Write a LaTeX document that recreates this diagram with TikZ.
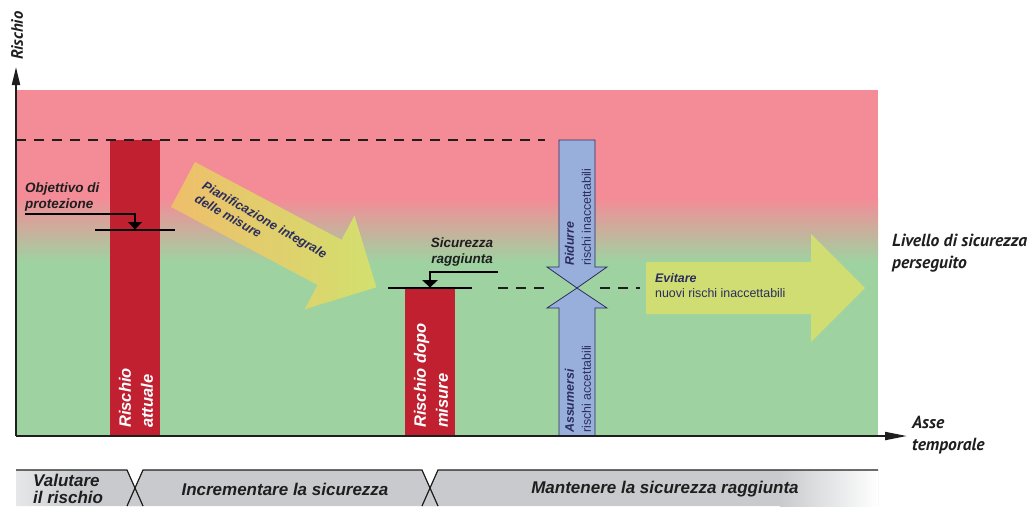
\documentclass[tikz,border=0pt]{standalone}
\usepackage{fontspec}
\setmainfont{Liberation Sans}
\newfontfamily\ptsans{PT Sans}
\usetikzlibrary{arrows.meta}
\definecolor{pinkbg}{RGB}{244,140,151}
\definecolor{greenbg}{RGB}{158,211,161}
\definecolor{redbar}{RGB}{192,32,48}
\definecolor{navy}{RGB}{43,45,92}
\definecolor{bluearrow}{RGB}{152,174,219}
\definecolor{evitare}{RGB}{207,221,115}
\definecolor{orangeA}{RGB}{239,190,107}
\definecolor{greenA}{RGB}{210,224,110}
\definecolor{bandgray}{RGB}{200,202,205}
\definecolor{axisc}{RGB}{30,30,30}
\definecolor{txt}{RGB}{30,30,30}
\tikzset{
  axisline/.style={line width=2pt, draw=axisc},
  dashline/.style={line width=1.2pt, draw=axisc, dash pattern=on 10pt off 8pt},
  marker/.style={line width=2.6pt, draw=black},
  leader/.style={line width=1.3pt, draw=black},
  bartext/.style={rotate=90, anchor=west, align=left, text=white, inner sep=0pt,
     font=\fontsize{16.5}{22}\selectfont\bfseries\itshape},
  bluetext/.style={rotate=90, anchor=west, align=left, text=navy, inner sep=0pt,
     font=\fontsize{12.4}{17}\selectfont},
  labeltext/.style={inner sep=0pt, text=txt, font=\fontsize{13.5}{16}\selectfont\bfseries\itshape},
  ptlabel/.style={inner sep=0pt, text=txt, align=left, font=\ptsans\fontsize{17.5}{22}\selectfont\bfseries\itshape},
  bandtext/.style={inner sep=0pt, text=txt, font=\fontsize{17}{17}\selectfont\bfseries\itshape},
  bandedge/.style={line width=1.2pt, draw=axisc},
  bluearr/.style={fill=bluearrow, draw=navy, line width=0.8pt},
}
\begin{document}
\begin{tikzpicture}[x=1pt,y=-1pt]
\useasboundingbox (0,0) rectangle (1030,506);
% background
\fill[pinkbg] (16,90) rectangle (878,198.5);
\shade[top color=pinkbg, bottom color=greenbg] (16,198) rectangle (878,262.5);
\fill[greenbg] (16,262) rectangle (878,436);
% red bars
\fill[redbar] (110,140) rectangle (160,436);
\fill[redbar] (405,288) rectangle (455,436);
% coordinates
\coordinate (d1a) at (16,140); \coordinate (d1b) at (545,140);
\coordinate (d2a) at (498,288); \coordinate (d2b) at (545,288);
\coordinate (d3a) at (600,288); \coordinate (d3b) at (640,288);
\draw[dashline] (d1a) -- (d1b);
\draw[dashline] (d2a) -- (d2b);
\draw[dashline] (d3a) -- (d3b);
% planning arrow
\begin{scope}[shift={(183,184.5)}, rotate=-28]
\shade[left color=orangeA, right color=greenA]
  (0,-25.5) -- (166,-25.5) -- (166,-53) -- (219,0) -- (166,53) -- (166,25.5) -- (0,25.5) -- cycle;
\end{scope}
\node[rotate=-30, anchor=north west, align=left, text=navy, inner sep=0pt,
  font=\fontsize{12.7}{15}\selectfont\bfseries\itshape] (pian) at (206,180) {Pianificazione integrale\\delle misure};
% objective marker
\coordinate (om1) at (95,230); \coordinate (om2) at (175,230);
\draw[marker] (om1) -- (om2);
\coordinate (ol1) at (25,214); \coordinate (ol2) at (135,223);
\draw[leader] (ol1) -| (ol2);
\fill (128,222) -- (142,222) -- (135,229.5) -- cycle;
\node[labeltext, anchor=north west, align=left] (obj) at (25,183) {Objettivo di\\protezione};
% safety reached marker
\coordinate (sm1) at (388,288); \coordinate (sm2) at (472,288);
\draw[marker] (sm1) -- (sm2);
\coordinate (sl1) at (498,272); \coordinate (sl2) at (430,281);
\draw[leader] (sl1) -| (sl2);
\fill (422,280) -- (438,280) -- (430,287.5) -- cycle;
\node[labeltext, anchor=north, align=center] (sic) at (462,238) {Sicurezza\\raggiunta};
% bar texts
\node[bartext] (r1) at (136,428) {Rischio\\attuale};
\node[bartext] (r2) at (431,428) {Rischio dopo\\misure};
% blue arrows
\draw[bluearr] (559,140) -- (595,140) -- (595,267) -- (607,267) -- (577,288) -- (547,267) -- (559,267) -- cycle;
\draw[bluearr] (559,436) -- (595,436) -- (595,308) -- (607,308) -- (577,288) -- (547,308) -- (559,308) -- cycle;
\node[bluetext] (rid) at (578,266) {{\bfseries\itshape Ridurre}\\rischi inaccettabili};
\node[bluetext] (ass) at (578,433) {{\bfseries\itshape Assumersi}\\rischi accettabili};
% avoid arrow
\fill[evitare] (646,262) -- (811,262) -- (811,234) -- (865,288) -- (811,342) -- (811,314) -- (646,314) -- cycle;
\node[anchor=north west, align=left, text=navy, inner sep=0pt, font=\fontsize{12.4}{15}\selectfont] (evi) at (655,273)
  {{\bfseries\itshape Evitare}\\nuovi rischi inaccettabili};
% axes
\coordinate (o) at (16,436); \coordinate (ytip) at (16,67); \coordinate (xtip) at (907,436);
\draw[axisline, -{Stealth[length=18pt, width=8pt, inset=0pt]}] (o) -- (ytip);
\draw[axisline, -{Stealth[length=22pt, width=8pt, inset=0pt]}] (o) -- (xtip);
\node[ptlabel, rotate=90, anchor=west, font=\ptsans\fontsize{16.5}{20}\selectfont\bfseries\itshape] (ylab) at (17,60) {Rischio};
\node[ptlabel, anchor=north west] (xlab) at (912,416) {Asse\\temporale};
\node[ptlabel, anchor=north west] (liv) at (892,234) {Livello di sicurezza\\perseguito};
% bottom band
\shade[left color=bandgray!45, right color=bandgray, middle color=bandgray] (16,470) -- (127,470) -- (143,506) -- (16,506) -- cycle;
\fill[bandgray] (143,470) -- (422,470) -- (438,506) -- (127,506) -- cycle;
\fill[bandgray] (438,470) -- (878,470) -- (878,506) -- (422,506) -- cycle;
\shade[left color=bandgray, right color=white] (780,470.5) rectangle (878,506);
\draw[bandedge] (16,470) -- (127,470) -- (143,506);
\draw[bandedge] (127,506) -- (143,470) -- (422,470) -- (438,506);
\draw[bandedge] (422,506) -- (438,470) -- (878,470);
\node[bandtext, anchor=north west, align=left] (b1) at (33,474) {Valutare\\il rischio};
\node[bandtext] (b2) at (285,489) {Incrementare la sicurezza};
\node[bandtext] (b3) at (665,489) {Mantenere la sicurezza raggiunta};
\end{tikzpicture}
\end{document}
